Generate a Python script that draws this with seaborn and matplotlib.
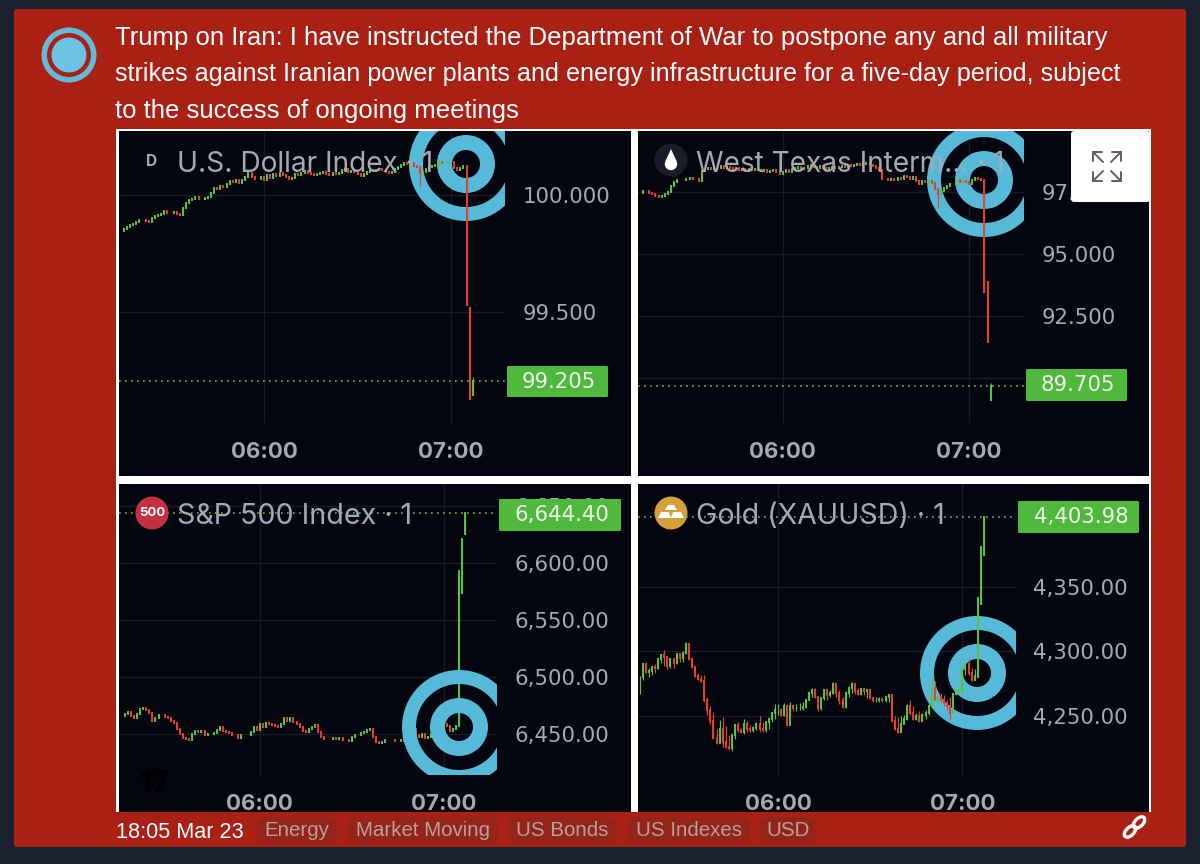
import matplotlib
matplotlib.use("Agg")
import matplotlib.pyplot as plt
import pandas as pd
import seaborn as sns
from matplotlib.lines import Line2D
from matplotlib.patches import Circle, Ellipse, FancyBboxPatch, Polygon, Rectangle, Wedge
from matplotlib.transforms import Affine2D

# Regular 1 minute candles (closes)
usd_close = [
    99.845, 99.855, 99.862, 99.870, 99.877, 99.885, 99.895, 99.892, 99.888, 99.884,
    99.900, 99.912, 99.916, 99.920, 99.931, 99.924, 99.922, 99.926, 99.920, 99.915,
    99.945, 99.965, 99.978, 99.985, 99.990, 99.982, 99.984, 99.988, 99.992, 100.010,
    100.032, 100.025, 100.040, 100.035, 100.048, 100.060, 100.055, 100.062, 100.053, 100.062,
    100.075, 100.092, 100.075, 100.070, 100.068, 100.078, 100.064, 100.085, 100.072, 100.088,
    100.082, 100.095, 100.085, 100.078, 100.070, 100.072, 100.088, 100.084, 100.094, 100.102,
    100.096, 100.088, 100.085, 100.090, 100.095, 100.098, 100.090, 100.085, 100.095, 100.088,
    100.095, 100.105, 100.112, 100.100, 100.104, 100.098, 100.090, 100.082, 100.088, 100.098,
    100.105, 100.102, 100.108, 100.112, 100.105, 100.100, 100.092, 100.098, 100.112, 100.120,
    100.128, 100.135, 100.132, 100.138, 100.125, 100.118, 100.095, 100.100, 100.112, 100.118,
    100.125, 100.130, 100.142, 100.135, 100.138, 100.140, 100.142, 100.115, 100.105, 100.115,
    100.125,
]
usd_last_open = [100.125, 99.515, 99.145]
usd_last_close = [99.530, 99.130, 99.205]
usd_last_high = [100.13, 99.515, 99.224]
usd_wicks = {50: 100.04}

wti_close = [
    97.48, 97.55, 97.57, 97.48, 97.42, 97.36, 97.32, 97.34, 97.42, 97.50,
    97.75, 97.90, 97.98, 98.00, 97.98, 98.02, 98.08, 98.05, 98.02, 97.96,
    98.35, 98.42, 98.47, 98.44, 98.48, 98.50, 98.56, 98.48, 98.52, 98.46,
    98.44, 98.47, 98.40, 98.43, 98.37, 98.42, 98.38, 98.45, 98.40, 98.36,
    98.40, 98.33, 98.36, 98.38, 98.32, 98.24, 98.30, 98.38, 98.33, 98.42,
    98.46, 98.52, 98.44, 98.50, 98.56, 98.60, 98.52, 98.46, 98.55, 98.50,
    98.43, 98.48, 98.52, 98.47, 98.52, 98.58, 98.54, 98.60, 98.56, 98.62,
    98.66, 98.60, 98.64, 98.68, 98.62, 98.55, 98.48, 98.40, 98.05, 98.02,
    97.98, 98.03, 97.98, 98.08, 98.03, 98.16, 98.10, 98.02, 98.10, 97.94,
    97.85, 97.97, 97.92, 97.96, 97.88, 97.62, 97.42, 97.55, 97.68, 97.75,
    97.82, 97.85, 97.98, 97.92, 97.95, 97.90, 97.85, 97.98, 98.08, 98.04,
    98.00,
]
wti_last_open = [98.00, 93.87, 89.13]
wti_last_close = [93.49, 91.48, 89.705]
wti_last_high = [98.00, 93.87, 89.80]
wti_wicks = {50: 96.92}

spx_close = [
    6466, 6468, 6470, 6466, 6464, 6468, 6472, 6473, 6471, 6469,
    6462, 6464, 6467, 6467, 6465, 6464, 6462, 6460, 6455, 6450,
    6447, 6446, 6445, 6450, 6453, 6452, 6453, 6449, 6450, 6450,
    6451, 6454, 6456, 6453, 6452, 6451, 6449, 6449, 6447, 6449,
    6449, 6449, 6452, 6456, 6454, 6459, 6456, 6460, 6459, 6458,
    6457, 6456, 6459, 6464, 6462, 6464, 6461, 6459, 6456, 6453,
    6452, 6455, 6456, 6458, 6452, 6448, 6446, 6446, 6446, 6447,
    6446, 6447, 6445, 6445, 6444, 6448, 6449, 6449, 6451, 6452,
    6454, 6455, 6448, 6443, 6442, 6443, 6445, 6445, 6445, 6444,
    6444, 6445, 6444, 6443, 6444, 6455, 6449, 6448, 6450, 6447,
    6448, 6450, 6451, 6452, 6456, 6459, 6457, 6453, 6455, 6457,
]
spx_last_open = [6457.0, 6573.7, 6625.7]
spx_last_close = [6593.6, 6621.0, 6644.4]
spx_last_high = [6593.6, 6621.0, 6644.4]

gold_close = [
    4280, 4290, 4284, 4285, 4288, 4287, 4294, 4297, 4296, 4289,
    4294, 4291, 4298, 4295, 4299, 4306, 4294, 4288, 4281, 4279,
    4277, 4262, 4255, 4246, 4233, 4229, 4240, 4230, 4226, 4225,
    4235, 4243, 4239, 4238, 4244, 4240, 4239, 4241, 4244, 4240,
    4239, 4245, 4248, 4252, 4255, 4255, 4251, 4258, 4243, 4258,
    4256, 4256, 4256, 4257, 4262, 4268, 4270, 4265, 4256, 4264,
    4270, 4266, 4268, 4275, 4268, 4262, 4257, 4268, 4272, 4275,
    4269, 4267, 4271, 4269, 4270, 4264, 4262, 4262, 4263, 4262,
    4265, 4266, 4246, 4240, 4238, 4244, 4248, 4258, 4252, 4248,
    4250, 4246, 4251, 4252, 4258, 4272, 4263, 4265, 4262, 4260,
    4258, 4252, 4267, 4269, 4270, 4286, 4290, 4283, 4278, 4281,
]
gold_low = [
    4267, 4278, 4283, 4280, 4282, 4283, 4286, 4291, 4289, 4286,
    4287, 4287, 4290, 4292, 4292, 4298, 4293, 4287, 4280, 4278,
    4276, 4261, 4251, 4244, 4232, 4228, 4229, 4226, 4225, 4224,
    4223, 4232, 4238, 4237, 4236, 4238, 4238, 4238, 4239, 4238,
    4238, 4238, 4240, 4245, 4248, 4251, 4250, 4250, 4242, 4251,
    4254, 4254, 4255, 4255, 4256, 4262, 4265, 4264, 4254, 4255,
    4262, 4262, 4265, 4267, 4265, 4259, 4256, 4256, 4265, 4268,
    4267, 4266, 4266, 4266, 4264, 4263, 4261, 4261, 4261, 4261,
    4261, 4261, 4245, 4239, 4237, 4240, 4244, 4247, 4251, 4247,
    4247, 4245, 4246, 4248, 4251, 4257, 4262, 4260, 4261, 4258,
    4255, 4248, 4256, 4266, 4267, 4268, 4282, 4282, 4277, 4278,
]
gold_high = [
    4281, 4291, 4291, 4287, 4289, 4290, 4295, 4298, 4301, 4296,
    4295, 4294, 4299, 4298, 4300, 4307, 4305, 4296, 4289, 4283,
    4282, 4282, 4265, 4258, 4252, 4240, 4247, 4249, 4242, 4235,
    4236, 4244, 4245, 4241, 4248, 4246, 4243, 4242, 4245, 4250,
    4245, 4246, 4249, 4253, 4259, 4259, 4256, 4260, 4259, 4261,
    4258, 4259, 4260, 4261, 4263, 4269, 4272, 4272, 4265, 4265,
    4271, 4270, 4270, 4276, 4273, 4270, 4265, 4269, 4273, 4276,
    4273, 4272, 4272, 4272, 4271, 4270, 4265, 4265, 4265, 4265,
    4266, 4267, 4263, 4250, 4249, 4250, 4251, 4259, 4262, 4258,
    4252, 4254, 4252, 4255, 4259, 4280, 4277, 4266, 4268, 4266,
    4262, 4265, 4268, 4271, 4271, 4287, 4292, 4294, 4287, 4286,
]
gold_last_open = [4280.4, 4336.6, 4374.5]
gold_last_close = [4341.0, 4381.0, 4403.98]
gold_last_high = [4341.0, 4381.0, 4403.98]

time_ticks = [0, 60]
time_labels = ["06:00", "07:00"]
usd_ticks = [100.0, 99.5]
usd_labels = ["100.000", "99.500"]
wti_ticks = [97.5, 95.0, 92.5, 90.0]
wti_labels = ["97.500", "95.000", "92.500", ""]
spx_ticks = [6650, 6600, 6550, 6500, 6450]
spx_labels = ["6,650.00", "6,600.00", "6,550.00", "6,500.00", "6,450.00"]
gold_ticks = [4350, 4300, 4250]
gold_labels = ["4,350.00", "4,300.00", "4,250.00"]

headline = [
    "Trump on Iran: I have instructed the Department of War to postpone any and all military",
    "strikes against Iranian power plants and energy infrastructure for a five-day period, subject",
    "to the success of ongoing meetings",
]
headline_size = [18.55, 18.08, 18.55]
chips = ["Energy", "Market Moving", "US Bonds", "US Indexes", "USD"]

DARK = "#1d2230"
RED = "#a92114"
CHIP = "#952318"
CHIP_TEXT = "#b3a3a1"
PANEL = "#03050f"
GRID = "#181b27"
UP = "#5cc23f"
DOWN = "#e8402f"
TAG = "#50b83c"
LABEL = "#a6a9b3"
RING = "#55b9d7"
SANS = "Liberation Sans"
CHART = "Inter"
PRICE = "DejaVu Sans"

sns.set_theme(style="dark")
plt.rcParams["font.family"] = [CHART, "DejaVu Sans"]

W, H = 1200, 864
fig = plt.figure(figsize=(W / 100, H / 100), dpi=100, facecolor=DARK)
# screenshot pixels, y going down
px = Affine2D().scale(1, -1).translate(0, H)


def box(x0, y0, x1, y1, color, zorder=-5, pad=0.0):
    if pad:
        p = FancyBboxPatch((x0 + pad, y0 + pad), x1 - x0 - 2 * pad, y1 - y0 - 2 * pad,
                           boxstyle=f"round,pad={pad},rounding_size={pad}", fc=color, ec="none",
                           transform=px, zorder=zorder)
    else:
        p = Rectangle((x0, y0), x1 - x0, y1 - y0, fc=color, ec="none", transform=px, zorder=zorder)
    fig.add_artist(p)


def label(x, y, s, color, size, family=CHART, weight="normal", ha="left", zorder=5):
    fig.text(x, y, s, color=color, fontsize=size, family=family, weight=weight,
             ha=ha, va="center", transform=px, zorder=zorder)


def disc(x, y, r, color, zorder=4):
    fig.add_artist(Circle((x, y), r, fc=color, ec="none", transform=px, zorder=zorder))


def poly(points, color, zorder=5):
    fig.add_artist(Polygon(points, closed=True, fc=color, ec="none", transform=px, zorder=zorder))


def candles(start, close, last_open, last_close, last_high, low=None, high=None, wicks=None):
    df = pd.DataFrame({"close": close + last_close})
    df["minute"] = start + df.index
    df["open"] = df["close"].shift(1).fillna(df["close"])
    n = len(close)
    df.loc[n:, "open"] = last_open
    df["top"] = df[["open", "close"]].max(axis=1)
    df["bottom"] = df[["open", "close"]].min(axis=1)
    if low is not None:
        df.loc[:n - 1, "bottom"] = low
    if high is not None:
        df.loc[:n - 1, "top"] = high
    df.loc[n:, "top"] = last_high
    for minute, value in (wicks or {}).items():
        df.loc[df["minute"] == minute, "bottom"] = value
    df["side"] = ["up" if c >= o else "down" for o, c in zip(df["open"], df["close"])]
    return df


def draw_panel(box_px, plot_px, t_px, y_px, y_vals, df, ticks, tick_labels, last, logo, logo_on_top=False):
    box(*box_px, PANEL, zorder=-3)
    left, top, right, bottom = plot_px
    ax = fig.add_axes([left / W, 1 - bottom / H, (right - left) / W, (bottom - top) / H])
    ax.set_facecolor("none")

    palette = {"up": UP, "down": DOWN}
    bodies = df.melt(id_vars=["minute", "side"], value_vars=["open", "close"], value_name="price")
    wick = df.melt(id_vars=["minute", "side"], value_vars=["bottom", "top"], value_name="price")
    sns.lineplot(data=wick, x="minute", y="price", hue="side", units="minute", estimator=None,
                 palette=palette, linewidth=0.85, legend=False, ax=ax, zorder=3,
                 solid_capstyle="butt")
    sns.lineplot(data=bodies, x="minute", y="price", hue="side", units="minute", estimator=None,
                 palette=palette, linewidth=1.4, legend=False, ax=ax, zorder=3,
                 solid_capstyle="projecting")

    ax.axhline(last, color=UP, lw=1.2, linestyle=(0, (1, 2.6)), zorder=2)

    ring_z = 4 if logo_on_top else 1
    for radius, width in [(57, 14), (29, 15)]:
        ax.add_patch(Wedge(logo, radius, 0, 360, width=width, fc=RING, ec="none",
                           transform=px, zorder=ring_z))

    # 06:00 and 07:00 pixel columns give the time scale
    ppm = (t_px[1] - t_px[0]) / 60
    ax.set_xlim((left - t_px[0]) / ppm, (right - t_px[0]) / ppm)
    per_px = (y_vals[1] - y_vals[0]) / (y_px[1] - y_px[0])
    ax.set_ylim(y_vals[0] + (bottom - y_px[0]) * per_px, y_vals[0] + (top - y_px[0]) * per_px)

    ax.set_xticks(time_ticks, time_labels)
    ax.yaxis.tick_right()
    ax.set_yticks(ticks, tick_labels)
    ax.tick_params(axis="x", length=0, pad=14, labelsize=16, labelcolor=LABEL)
    ax.tick_params(axis="y", length=0, pad=12.5, labelsize=15.3, labelcolor=LABEL)
    for t in ax.get_xticklabels():
        t.set_fontweight("bold")
    for t in ax.get_yticklabels():
        t.set_family(PRICE)
    ax.grid(True, color=GRID, lw=1)
    ax.set_axisbelow(True)
    ax.set_xlabel("")
    ax.set_ylabel("")
    for s in ax.spines.values():
        s.set_visible(False)
    return ax


# page
box(14, 9, 1186, 847, RED, zorder=-6, pad=3)
box(116, 129, 1151, 812, "white", zorder=-4)

# avatar
disc(69, 55, 27.5, "#62bbdb", zorder=-2)
disc(69, 55, 22, RED, zorder=-1.9)
disc(69, 55, 17.5, "#6dc1e3", zorder=-1.8)

for i, line in enumerate(headline):
    label(115, 38 + 36.5 * i, line, "white", headline_size[i], family=SANS)

draw_panel((119, 131, 631, 476), (119, 131, 505, 423), (264, 451), (195, 312), (100.0, 99.5),
           candles(-46, usd_close, usd_last_open, usd_last_close, usd_last_high, wicks=usd_wicks),
           usd_ticks, usd_labels, 99.205, (466, 164))
draw_panel((638, 131, 1149, 476), (638, 131, 1024, 423), (782.7, 968.9), (254.3, 316.3), (95.0, 92.5),
           candles(-46, wti_close, wti_last_open, wti_last_close, wti_last_high, wicks=wti_wicks),
           wti_ticks, wti_labels, 89.705, (984, 180))
draw_panel((119, 484, 631, 812), (119, 484, 497, 775), (259.7, 443.7), (563.3, 734.3), (6600, 6450),
           candles(-45, spx_close, spx_last_open, spx_last_close, spx_last_high),
           spx_ticks, spx_labels, 6644.40, (459, 727), logo_on_top=True)
draw_panel((638, 484, 1149, 812), (638, 484, 1016, 775), (778, 962.4), (586.7, 716), (4350, 4250),
           candles(-45, gold_close, gold_last_open, gold_last_close, gold_last_high,
                   low=gold_low, high=gold_high),
           gold_ticks, gold_labels, 4403.98, (977, 673))

# price tags
tags = [((507, 366, 608, 397), "99.205", 522), ((1026, 369, 1127, 401), "89.705", 1041),
        ((499, 499, 621, 531), "6,644.40", 514), ((1018, 501, 1139, 533), "4,403.98", 1034)]
for rect, text, x in tags:
    box(*rect, TAG, zorder=3, pad=1.5)
    label(x, (rect[1] + rect[3]) / 2, text, "#eef7ea", 15.3, family=PRICE)

# panel titles and icons
label(146, 161, "D", LABEL, 11, weight="bold")
label(177, 164, "U.S. Dollar Index · 1", LABEL, 20.2)
disc(671, 160, 16.5, "#1b1d24")
disc(671, 164, 6.2, "white", zorder=5)
poly([(671, 149), (665.5, 161), (676.5, 161)], "white")
label(696, 164, "West Texas Interm... · 1", LABEL, 20.2)
disc(152, 513, 16.5, "#c2313d")
label(152, 512.5, "500", "white", 9.5, weight="bold", ha="center")
label(177, 516, "S&P 500 Index · 1", LABEL, 20.6)
disc(671, 513, 16.5, "#d3a03a")
poly([(668, 505), (674, 505), (677, 510), (665, 510)], "white")
poly([(661, 512), (669, 512), (671, 518), (658, 518)], "white")
poly([(673, 512), (681, 512), (684, 518), (671, 518)], "white")
label(696, 516, "Gold (XAUUSD) · 1", LABEL, 20.6)
label(140, 784, "17", "#000000", 21, weight="bold")

# expand button
box(1071, 131, 1150, 202, "white", zorder=6, pad=3)
for cx, cy, dx, dy in [(1093, 152, 1, 1), (1121, 152, -1, 1), (1093, 181, 1, -1), (1121, 181, -1, -1)]:
    for xs, ys in [((cx, cx + 9 * dx), (cy, cy)), ((cx, cx), (cy, cy + 9 * dy)),
                   ((cx, cx + 10 * dx), (cy, cy + 10 * dy))]:
        fig.add_artist(Line2D(xs, ys, color="#59606e", lw=1.4, transform=px, zorder=7))

# footer
label(116, 832, "18:05 Mar 23", "white", 15.6, family=SANS)
chip_boxes = [(257, 337), (347, 498), (508, 617), (627, 750), (759, 817)]
for (x0, x1), name in zip(chip_boxes, chips):
    box(x0, 817, x1, 843, CHIP, zorder=-2, pad=7)
    label((x0 + x1) / 2, 830, name, CHIP_TEXT, 14.8, family=SANS, ha="center")
for dx in (-4.5, 4.5):
    fig.add_artist(Ellipse((1134.5 + dx, 827 - dx), 14, 8, angle=-45, fc="none", ec="white", lw=2.4,
                           transform=px, zorder=4))

fig.savefig("out.png", dpi=100, facecolor=DARK)
